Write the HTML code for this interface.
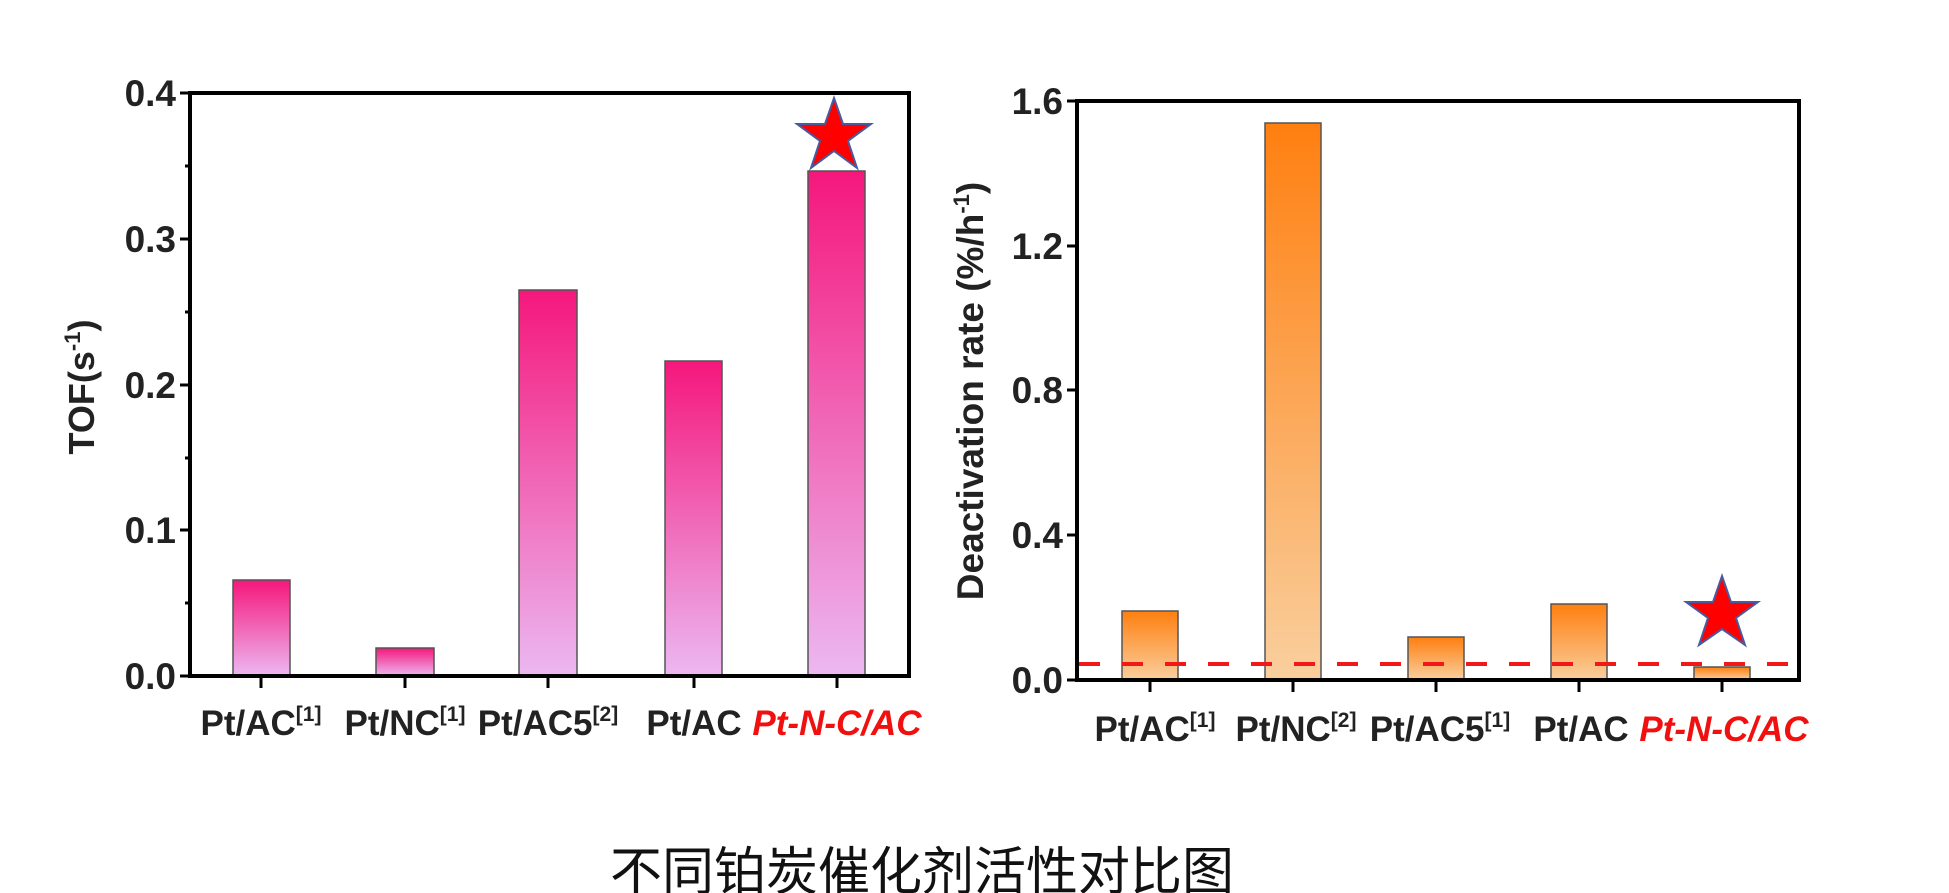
<!DOCTYPE html>
<html><head><meta charset="utf-8"><style>
html,body{margin:0;padding:0;background:#fff;}
svg{display:block;}
text{font-family:"Liberation Sans",sans-serif;}
</style></head><body>
<svg width="1949" height="893" viewBox="0 0 1949 893" xmlns="http://www.w3.org/2000/svg">
<defs>
<linearGradient id="pk" x1="0" y1="0" x2="0" y2="1">
<stop offset="0" stop-color="#f5177c"/><stop offset="1" stop-color="#ecb8f2"/></linearGradient>
<linearGradient id="og" x1="0" y1="0" x2="0" y2="1">
<stop offset="0" stop-color="#ff7f10"/><stop offset="1" stop-color="#f9cf9e"/></linearGradient>
</defs>

<!-- LEFT CHART -->
<g stroke="#555" stroke-width="1.5">
<rect x="233" y="580" width="57" height="96" fill="url(#pk)"/>
<rect x="376" y="648" width="58" height="28" fill="url(#pk)"/>
<rect x="519" y="290" width="58" height="386" fill="url(#pk)"/>
<rect x="665" y="361" width="57" height="315" fill="url(#pk)"/>
<rect x="808" y="171" width="57" height="505" fill="url(#pk)"/>
</g>
<rect x="190" y="93" width="719" height="583" fill="none" stroke="#000" stroke-width="4"/>
<g stroke="#000" stroke-width="3">
<line x1="180" y1="93" x2="190" y2="93"/><line x1="180" y1="239" x2="190" y2="239"/>
<line x1="180" y1="385" x2="190" y2="385"/><line x1="180" y1="530" x2="190" y2="530"/>
<line x1="180" y1="676" x2="190" y2="676"/>
<line x1="185" y1="166" x2="190" y2="166"/><line x1="185" y1="312" x2="190" y2="312"/>
<line x1="185" y1="458" x2="190" y2="458"/><line x1="185" y1="603" x2="190" y2="603"/>
<line x1="261" y1="676" x2="261" y2="688"/><line x1="405" y1="676" x2="405" y2="688"/>
<line x1="548" y1="676" x2="548" y2="688"/><line x1="694" y1="676" x2="694" y2="688"/>
<line x1="837" y1="676" x2="837" y2="688"/>
</g>
<g font-size="37" font-weight="bold" text-anchor="end" fill="#222">
<text x="176" y="106">0.4</text><text x="176" y="252">0.3</text>
<text x="176" y="398">0.2</text><text x="176" y="543">0.1</text><text x="176" y="689">0.0</text>
</g>
<text transform="translate(94,387) rotate(-90)" font-size="36" font-weight="bold" text-anchor="middle" fill="#222">TOF(s<tspan font-size="22" dy="-14">-1</tspan><tspan dy="14">)</tspan></text>
<g font-size="35" font-weight="bold" fill="#222" text-anchor="middle">
<text x="261" y="735">Pt/AC<tspan font-size="21" dy="-14">[1]</tspan></text>
<text x="405" y="735">Pt/NC<tspan font-size="21" dy="-14">[1]</tspan></text>
<text x="548" y="735">Pt/AC5<tspan font-size="21" dy="-14">[2]</tspan></text>
<text x="694" y="735">Pt/AC</text>
<text x="837" y="735" fill="#f01010" font-style="italic">Pt-N-C/AC</text>
</g>
<polygon points="834,98 843,124 871,124 848,141 857,168 834,151 811,168 820,141 797,124 825,124" fill="#f00" stroke="#4a5aa0" stroke-width="2"/>

<!-- RIGHT CHART -->
<g stroke="#555" stroke-width="1.5">
<rect x="1122" y="611" width="56" height="69" fill="url(#og)"/>
<rect x="1265" y="123" width="56" height="557" fill="url(#og)"/>
<rect x="1408" y="637" width="56" height="43" fill="url(#og)"/>
<rect x="1551" y="604" width="56" height="76" fill="url(#og)"/>
<rect x="1694" y="667" width="56" height="13" fill="url(#og)"/>
</g>
<line x1="1079" y1="664" x2="1799" y2="664" stroke="#f01818" stroke-width="4" stroke-dasharray="21,22"/>
<rect x="1077" y="101" width="722" height="579" fill="none" stroke="#000" stroke-width="4"/>
<g stroke="#000" stroke-width="3">
<line x1="1067" y1="101" x2="1077" y2="101"/><line x1="1067" y1="246" x2="1077" y2="246"/>
<line x1="1067" y1="390" x2="1077" y2="390"/><line x1="1067" y1="535" x2="1077" y2="535"/>
<line x1="1067" y1="680" x2="1077" y2="680"/>
<line x1="1150" y1="680" x2="1150" y2="692"/><line x1="1293" y1="680" x2="1293" y2="692"/>
<line x1="1436" y1="680" x2="1436" y2="692"/><line x1="1579" y1="680" x2="1579" y2="692"/>
<line x1="1722" y1="680" x2="1722" y2="692"/>
</g>
<g font-size="37" font-weight="bold" text-anchor="end" fill="#222">
<text x="1063" y="114">1.6</text><text x="1063" y="259">1.2</text>
<text x="1063" y="403">0.8</text><text x="1063" y="548">0.4</text><text x="1063" y="693">0.0</text>
</g>
<text transform="translate(983,391) rotate(-90)" font-size="37" font-weight="bold" text-anchor="middle" fill="#222">Deactivation rate (%/h<tspan font-size="22" dy="-14">-1</tspan><tspan dy="14">)</tspan></text>
<g font-size="35" font-weight="bold" fill="#222" text-anchor="middle">
<text x="1155" y="741">Pt/AC<tspan font-size="21" dy="-14">[1]</tspan></text>
<text x="1296" y="741">Pt/NC<tspan font-size="21" dy="-14">[2]</tspan></text>
<text x="1440" y="741">Pt/AC5<tspan font-size="21" dy="-14">[1]</tspan></text>
<text x="1581" y="741">Pt/AC</text>
<text x="1724" y="741" fill="#f01010" font-style="italic">Pt-N-C/AC</text>
</g>
<polygon points="1722,576 1731,602 1758,602 1736,618 1745,645 1722,629 1699,645 1708,618 1686,602 1713,602" fill="#f00" stroke="#4a5aa0" stroke-width="2"/>

<text x="922" y="890" font-size="52" text-anchor="middle" fill="#111" font-family="'Liberation Sans','Noto Sans CJK SC',sans-serif">不同铂炭催化剂活性对比图</text>
</svg>
</body></html>
